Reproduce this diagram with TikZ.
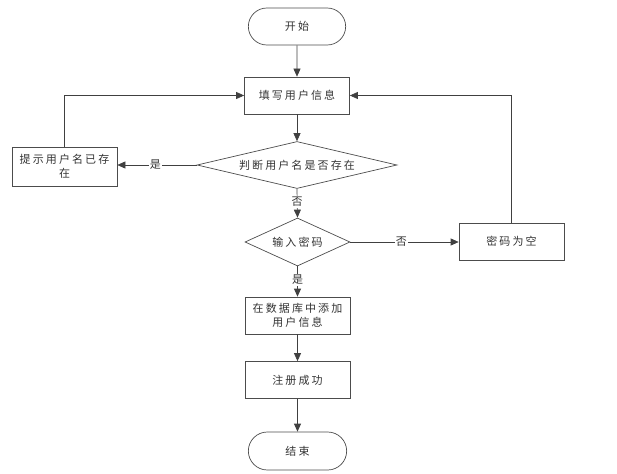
\documentclass[tikz,border=0pt]{standalone}
\usepackage{fontspec}
\setmainfont{Noto Sans CJK SC}[LetterSpace=19]
\usetikzlibrary{arrows.meta,shapes.geometric,shapes.misc}
\begin{document}
\begin{tikzpicture}[x=1pt,y=-1pt,
  every node/.style={font=\fontsize{11}{13.5}\selectfont, text=black!80},
  box/.style={draw=black!70, line width=0.7pt, minimum width=105pt, minimum height=37pt, inner sep=1pt, align=center, text width=100pt},
  term/.style={draw=black!70, line width=0.7pt, rounded rectangle, minimum width=104pt, minimum height=37pt},
  dia/.style={draw=black!70, line width=0.7pt, diamond, aspect=2, inner sep=0pt},
  conn/.style={draw=black!75, line width=0.7pt, -{Triangle[length=8pt,width=7pt]}},
  lbl/.style={fill=white, inner sep=1pt}]
\useasboundingbox (0,0) rectangle (617,473);
\node[term] (start) at (297,26.5) {开始};
\node[box] (fill) at (297,95.5) {填写用户信息};
\node[dia, minimum width=200pt, minimum height=47pt] (judge) at (297,165) {};
\node at (judge.center) {判断用户名是否存在};
\node[box, minimum height=39pt] (exist) at (64.5,166.5) {提示用户名已存\\在};
\node[dia, minimum width=105pt, minimum height=48pt] (pwd) at (297.5,242) {};
\node at (pwd.center) {输入密码};
\node[box] (empty) at (511.5,241.5) {密码为空};
\node[box] (db) at (297.5,315.5) {在数据库中添加\\用户信息};
\node[box] (ok) at (297.5,380) {注册成功};
\node[term, minimum width=105pt, minimum height=38pt] (end) at (297.5,451) {结束};
\draw[conn] (start) -- (fill);
\draw[conn] (fill) -- (judge.north);
\draw[conn] (judge.west) -- node[lbl, pos=0.52] {是} (exist.east |- judge.west);
\draw[conn] (exist.north) |- (fill.west);
\draw[conn] (judge.south) -- node[lbl, pos=0.45] {否} (pwd.north);
\draw[conn] (pwd.east) -- node[lbl, pos=0.47] {否} (empty.west |- pwd.east);
\draw[conn] (empty.north) |- (fill.east);
\draw[conn] (pwd.south) -- node[lbl, pos=0.45] {是} (db.north);
\draw[conn] (db) -- (ok);
\draw[conn] (ok) -- (end);
\end{tikzpicture}
\end{document}
